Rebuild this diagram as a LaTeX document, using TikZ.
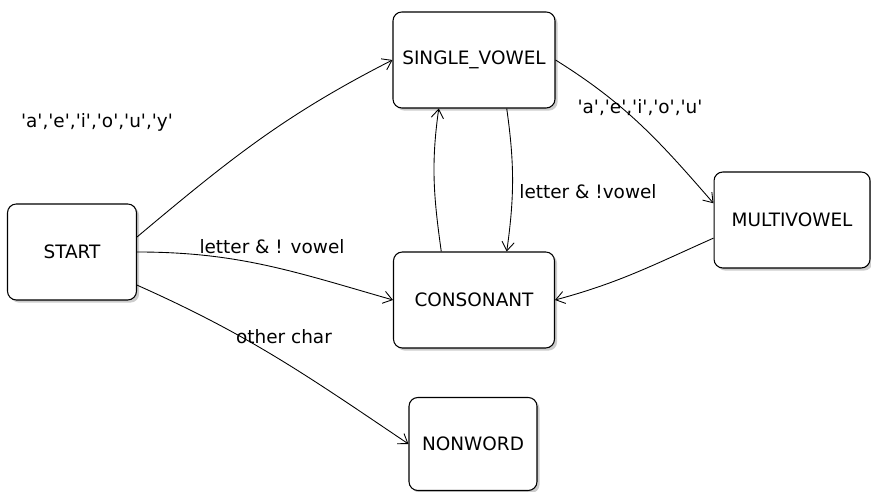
\documentclass[tikz,border=0pt]{standalone}
\usepackage{fontspec}
\setmainfont{DejaVu Sans}
\usetikzlibrary{arrows.meta,shadows}

\newcommand{\qc}[1]{\textquotesingle#1\textquotesingle}

\begin{document}
\begin{tikzpicture}[x=0.02cm, y=0.02cm,
    font=\fontsize{10.5}{12}\selectfont,
    state/.style={draw, rounded corners=5pt, line width=0.6pt, fill=white,
      minimum height=1.92cm,
      drop shadow={shadow xshift=1.5pt, shadow yshift=-1.5pt, fill=black!40, opacity=0.5}},
    trans/.style={line width=0.5pt, -{Straight Barb[length=5pt, width=7pt]}}]
    \useasboundingbox (0,0) rectangle (871,492);

    \node[state, minimum width=2.58cm] (st) at (72,240){START};
    \node[state, minimum width=3.24cm] (sv) at (474,432){SINGLE\_VOWEL};
    \node[state, minimum width=3.22cm] (cs) at (474,192){CONSONANT};
    \node[state, minimum width=3.12cm] (mv) at (792,272){MULTIVOWEL};
    \node[state, minimum width=2.56cm, minimum height=1.86cm] (nw) at (473,48){NONWORD};

    \draw[trans] (st.13) to[out=40, in=207] (sv.west);
    \draw[trans] (st.east) to[out=0, in=164] (cs.west);
    \draw[trans] (st.-27) to[out=-24, in=146] (nw.west);
    \draw[trans] (sv.-56) to[out=-82, in=82] (cs.56);
    \draw[trans] (cs.124) to[out=98, in=-98] (sv.-126);
    \draw[trans] (sv.east) to[out=-32, in=131] (mv.168);
    \draw[trans] (mv.193) to[out=204, in=15] (cs.east);

    \node (l1) at (97,370){\qc{a},\qc{e},\qc{i},\qc{o},\qc{u},\qc{y}};
    \node (l2) at (272,245){letter \& ! vowel};
    \node (l3) at (284,155){other char};
    \node (l4) at (588,300){letter \& !vowel};
    \node (l5) at (640,384){\qc{a},\qc{e},\qc{i},\qc{o},\qc{u}};
  \end{tikzpicture}
\end{document}
